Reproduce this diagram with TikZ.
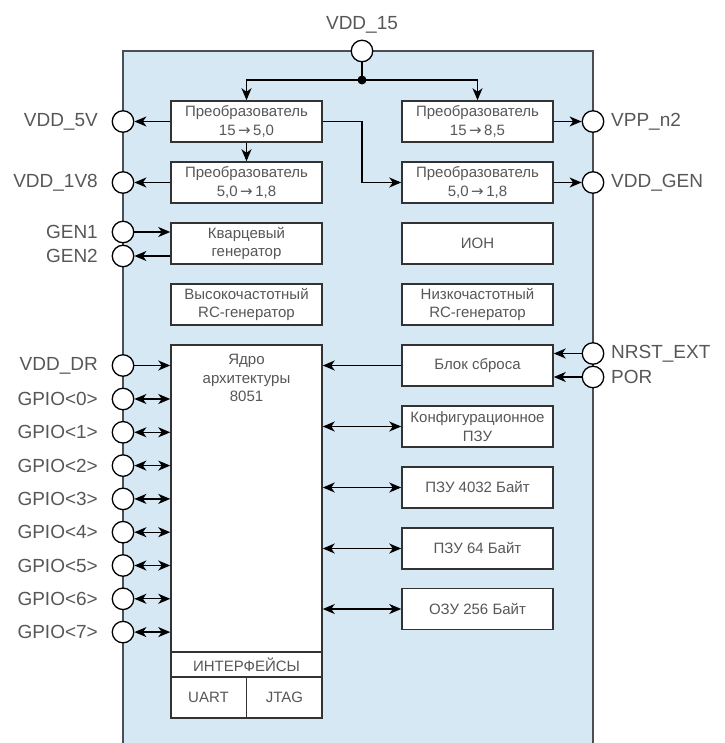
\documentclass[tikz,border=0pt]{standalone}
\usepackage{fontspec}
\setmainfont{Liberation Sans}
\newfontfamily\arrowfont{DejaVu Sans}
\newcommand{\tor}{\,{\arrowfont →}\,}
\usetikzlibrary{arrows.meta}
\definecolor{chipblue}{HTML}{D7E8F5}
\definecolor{chipedge}{HTML}{4A4F55}
\definecolor{boxedge}{HTML}{333333}
\definecolor{txt}{HTML}{575757}
\begin{document}
\begin{tikzpicture}[x=1pt,y=-1pt,
  blk/.style={draw=boxedge, line width=1.5pt, fill=white, minimum width=151pt, minimum height=41pt, inner sep=0pt, align=center, font=\fontsize{15}{18.5}\selectfont, text=txt},
  pin/.style={circle, draw=black, line width=1.3pt, fill=white, minimum size=21.5pt, inner sep=0pt},
  lbl/.style={font=\fontsize{19}{22}\selectfont, text=txt, inner sep=0pt},
  itxt/.style={font=\fontsize{15}{18.5}\selectfont, text=txt, inner sep=0pt, align=center},
  conn/.style={line width=1.3pt, -{Stealth[length=12pt,width=10pt,inset=3.5pt]}},
  bconn/.style={line width=1.3pt, {Stealth[length=12pt,width=10pt,inset=3.5pt]}-{Stealth[length=12pt,width=10pt,inset=3.5pt]}}]
\useasboundingbox (0,0) rectangle (724,743);
% chip body
\fill[chipblue] (123,51) rectangle (593,745);
\draw[chipedge, line width=2pt] (123,745) -- (123,51) -- (593,51) -- (593,745);
% blocks
\node[blk] (conv1) at (246.5,121.5) {Преобразователь\\15\tor5,0};
\node[blk] (conv2) at (246.5,182.5) {Преобразователь\\5,0\tor1,8};
\node[blk] (conv3) at (477.5,121.5) {Преобразователь\\15\tor8,5};
\node[blk] (conv4) at (477.5,182.5) {Преобразователь\\5,0\tor1,8};
\node[blk] (kv) at (246.5,243.5) {Кварцевый\\генератор};
\node[blk] (ion) at (477.5,243.5) {ИОН};
\node[blk] (hf) at (246.5,304.5) {Высокочастотный\\RC-генератор};
\node[blk] (lf) at (477.5,304.5) {Низкочастотный\\RC-генератор};
\node[blk] (reset) at (477.5,365.5) {Блок сброса};
\node[blk] (cfg) at (477.5,426.5) {Конфигурационное\\ПЗУ};
\node[blk] (rom1) at (477.5,487.5) {ПЗУ 4032 Байт};
\node[blk] (rom2) at (477.5,548.5) {ПЗУ 64 Байт};
\node[blk] (ram) at (477.5,609) {ОЗУ 256 Байт};
% core
\node[blk, minimum height=373pt] (core) at (246.5,531.5) {};
\node[itxt, anchor=north] (coretxt) at (246.5,354) {Ядро\\архитектуры\\8051};
\coordinate (ifl) at (171,652);
\coordinate (ifr) at (322,652);
\coordinate (iml) at (171,677);
\coordinate (imr) at (322,677);
\coordinate (ivt) at (246.5,677);
\draw[boxedge, line width=1.5pt] (ifl) -- (ifr) (iml) -- (imr) (ivt) -- (ivt |- core.south);
\node[itxt] (ifs) at (246.5,664.5) {ИНТЕРФЕЙСЫ};
\node[itxt] (uart) at (208.5,697.5) {UART};
\node[itxt] (jtag) at (284.5,697.5) {JTAG};
% pins
\node[pin] (vdd15) at (362,51) {};
\node[pin] (vdd5v) at (123,121.5) {};
\node[pin] (vdd1v8) at (123,182.5) {};
\node[pin] (gen1) at (123,232) {};
\node[pin] (gen2) at (123,256) {};
\node[pin] (vdddr) at (123,365.5) {};
\foreach \i in {0,...,7} {
  \node[pin] (gpio\i) at (123,{399+33.3*\i}) {};
  \node[lbl, anchor=east] (gl\i) at (98,{399+33.3*\i}) {GPIO<\i>};
}
\node[pin] (vppn2) at (593,121.5) {};
\node[pin] (vddgen) at (593,182.5) {};
\node[pin] (nrst) at (593,353.5) {};
\node[pin] (por) at (593,377) {};
% labels
\node[lbl] (l15) at (362,25) {VDD\_15};
\node[lbl, anchor=east] (l5v) at (98,121.5) {VDD\_5V};
\node[lbl, anchor=east] (l1v8) at (98,182.5) {VDD\_1V8};
\node[lbl, anchor=east] (lg1) at (98,232) {GEN1};
\node[lbl, anchor=east] (lg2) at (98,256) {GEN2};
\node[lbl, anchor=east] (ldr) at (98,365.5) {VDD\_DR};
\node[lbl, anchor=west] (lpp) at (611,121.5) {VPP\_n2};
\node[lbl, anchor=west] (lgen) at (611,182.5) {VDD\_GEN};
\node[lbl, anchor=west] (lnr) at (611,353.5) {NRST\_EXT};
\node[lbl, anchor=west] (lpor) at (611,377) {POR};
% connectors
\coordinate (j) at (362,80);
\draw[line width=1.3pt] (vdd15.south) -- (j);
\draw[conn] (j) -| (conv1.north);
\draw[conn] (j) -| (conv3.north);
\fill (j) circle (4.5pt);
\draw[conn] (conv1.west) -- (vdd5v.east);
\draw[conn] (conv1.south) -- (conv2.north);
\draw[conn] (conv1.east) -- (conv1.east -| j) |- (conv4.west);
\draw[conn] (conv2.west) -- (vdd1v8.east);
\draw[conn] (conv3.east) -- (vppn2.west);
\draw[conn] (conv4.east) -- (vddgen.west);
\draw[conn] (gen1.east) -- (gen1.east -| kv.west);
\draw[conn] (gen2.east -| kv.west) -- (gen2.east);
\draw[conn] (vdddr.east) -- (vdddr.east -| core.west);
\foreach \i in {0,...,7} \draw[bconn] (gpio\i.east) -- (gpio\i.east -| core.west);
\draw[conn] (reset.west) -- (reset.west -| core.east);
\draw[conn] (nrst.west) -- (nrst.west -| reset.east);
\draw[conn] (por.west) -- (por.west -| reset.east);
\draw[bconn] (cfg.west -| core.east) -- (cfg.west);
\draw[bconn] (rom1.west -| core.east) -- (rom1.west);
\draw[bconn] (rom2.west -| core.east) -- (rom2.west);
\draw[bconn] (ram.west -| core.east) -- (ram.west);
\end{tikzpicture}
\end{document}
